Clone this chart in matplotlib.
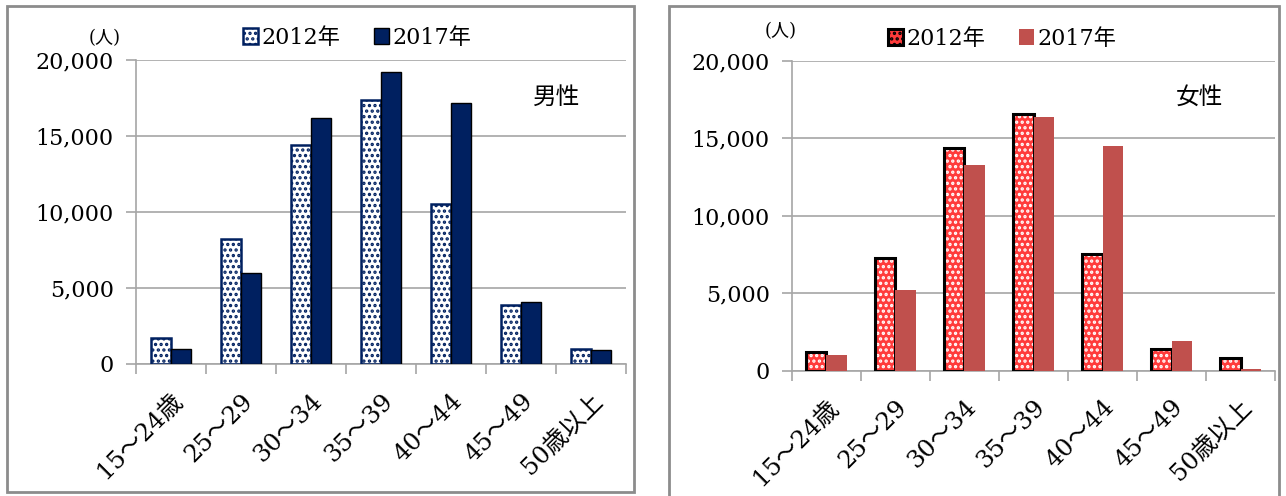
import matplotlib
matplotlib.use('Agg')
import matplotlib.pyplot as plt
import matplotlib.transforms as mtransforms
import numpy as np
from matplotlib.patches import Rectangle, Patch

plt.rcParams['font.family'] = ['DejaVu Serif', 'Noto Sans CJK JP']
plt.rcParams['hatch.linewidth'] = 1.6

# 年齢階級
categories = ['15～24歳', '25～29', '30～34', '35～39', '40～44', '45～49', '50歳以上']
years = ['2012年', '2017年']

# 男性（人）
male_2012 = [1700, 8200, 14400, 17400, 10500, 3900, 1000]
male_2017 = [1000, 6000, 16200, 19200, 17200, 4100, 900]

# 女性（人）
female_2012 = [1200, 7300, 14400, 16600, 7500, 1400, 800]
female_2017 = [1000, 5200, 13300, 16400, 14500, 1900, 100]

yticks = [0, 5000, 10000, 15000, 20000]

NAVY = '#002060'
BRICK = '#c0504d'
RED = '#ff3b3b'
GRID = '#a6a6a6'

W, H = 1286, 496
fig = plt.figure(figsize=(W / 100, H / 100), dpi=100)

# 外枠
fig.patches.append(Rectangle((7 / W, 1 - 492 / H), 627 / W, 486 / H,
                             transform=fig.transFigure, fill=False,
                             edgecolor='#8c8c8c', linewidth=2))
fig.patches.append(Rectangle((669 / W, -0.05), 610 / W, 1 - 6 / H + 0.05,
                             transform=fig.transFigure, fill=False,
                             edgecolor='#8c8c8c', linewidth=2))

# ラベルを少し右へずらす
shift = mtransforms.ScaledTranslation(8 / 100, 0, fig.dpi_scale_trans)


def setup_axes(ax):
    x = np.arange(len(categories))
    ax.set_xlim(-0.5, len(categories) - 0.5)
    ax.set_ylim(0, 20000)
    ax.set_yticks(yticks)
    ax.set_yticklabels(['{:,}'.format(v) for v in yticks], fontsize=16)
    ax.yaxis.grid(True, color=GRID, linewidth=1.2)
    ax.set_axisbelow(True)
    for s in ['top', 'right']:
        ax.spines[s].set_visible(False)
    for s in ['left', 'bottom']:
        ax.spines[s].set_color(GRID)
        ax.spines[s].set_linewidth(1.2)
    ax.tick_params(axis='y', length=7, color=GRID, width=1.2, pad=9)
    # 区切り目盛り
    ax.set_xticks(np.arange(len(categories) + 1) - 0.5, minor=True)
    ax.tick_params(axis='x', which='minor', length=7, color=GRID, width=1.2)
    ax.set_xticks(x)
    ax.set_xticklabels(categories, rotation=45, ha='right', va='center',
                       rotation_mode='anchor', fontsize=17.5)
    ax.tick_params(axis='x', which='major', length=0, pad=24)
    for lab in ax.get_xticklabels():
        lab.set_transform(lab.get_transform() + shift)
    return x


bw = 0.29

# 男性
ax1 = fig.add_axes([136 / W, 1 - 364 / H, 490 / W, 304 / H])
x = setup_axes(ax1)
ax1.bar(x - bw / 2, male_2012, bw, facecolor='white', edgecolor=NAVY,
        hatch='...', linewidth=0, zorder=2)
ax1.bar(x - bw / 2, male_2012, bw, fill=False, edgecolor=NAVY,
        linewidth=1.8, zorder=3)
ax1.bar(x + bw / 2, male_2017, bw, color=NAVY, edgecolor='black',
        linewidth=1.0, zorder=3)
h1 = [Patch(facecolor='white', edgecolor=NAVY, hatch='...', linewidth=1.8),
      Patch(facecolor=NAVY, edgecolor='black', linewidth=1.0)]
ax1.legend(h1, years, loc='lower center', bbox_to_anchor=(0.451, 1.0),
           ncol=2, frameon=False, fontsize=16, handlelength=0.7,
           handleheight=0.7, handletextpad=0.15, columnspacing=1.5,
           borderaxespad=0.1)
ax1.text(0.859, 0.878, '男性', transform=ax1.transAxes, fontsize=17,
         ha='center', va='center')
fig.text(105 / W, 1 - 38 / H, '(人)', fontsize=13, ha='center', va='center')

# 女性
ax2 = fig.add_axes([792 / W, 1 - 370.5 / H, 483 / W, 309.5 / H])
x = setup_axes(ax2)
ax2.bar(x - bw / 2, female_2012, bw, facecolor=RED, edgecolor='white',
        hatch='...', linewidth=0, zorder=2)
ax2.bar(x - bw / 2, female_2012, bw, fill=False, edgecolor='black',
        linewidth=2.2, zorder=3)
ax2.bar(x + bw / 2, female_2017, bw, color=BRICK, linewidth=0, zorder=3)
h2 = [Patch(facecolor=RED, edgecolor='black', hatch='...', linewidth=2.2),
      Patch(facecolor=BRICK, linewidth=0)]
ax2.legend(h2, years, loc='lower center', bbox_to_anchor=(0.435, 1.0),
           ncol=2, frameon=False, fontsize=16, handlelength=0.7,
           handleheight=0.7, handletextpad=0.15, columnspacing=1.5,
           borderaxespad=0.1)
ax2.text(0.843, 0.884, '女性', transform=ax2.transAxes, fontsize=17,
         ha='center', va='center')
fig.text(781 / W, 1 - 31 / H, '(人)', fontsize=13, ha='center', va='center')

fig.savefig('out.png', dpi=100)
